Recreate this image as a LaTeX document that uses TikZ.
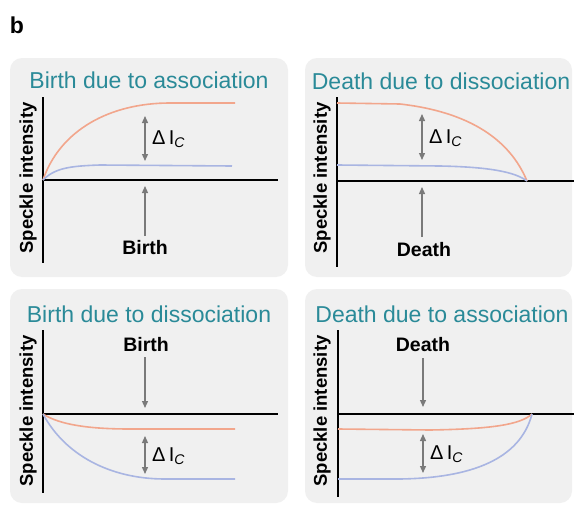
\documentclass[tikz,border=0pt]{standalone}
\usepackage{fontspec}
\setmainfont{Liberation Sans}
\usetikzlibrary{arrows.meta}
\definecolor{panelbg}{HTML}{F0F0F0}
\definecolor{titleteal}{HTML}{2A8A98}
\definecolor{curveor}{HTML}{F2A68C}
\definecolor{curvebl}{HTML}{A9B5E2}
\definecolor{arrgray}{HTML}{7A7A7A}
\tikzset{
  panel/.style={fill=panelbg, draw=none, rounded corners=12pt},
  ptitle/.style={text=titleteal, font=\fontsize{23}{23}\selectfont, inner sep=0pt},
  axis/.style={line width=2pt, black},
  ylab/.style={rotate=90, font=\bfseries\fontsize{18.5}{18.5}\selectfont, inner sep=0pt},
  evlab/.style={font=\bfseries\fontsize{19.5}{19.5}\selectfont, inner sep=0pt},
  dlab/.style={font=\fontsize{20}{20}\selectfont, inner sep=0pt, anchor=west},
  orc/.style={curveor, line width=1.6pt},
  blc/.style={curvebl, line width=1.6pt},
  garr/.style={arrgray, line width=1.3pt, -{Triangle[width=6pt,length=7pt]}},
  gdarr/.style={arrgray, line width=1.3pt, {Triangle[width=6pt,length=7pt]}-{Triangle[width=6pt,length=7pt]}}
}
\newcommand{\dIC}{Δ\,I\textsubscript{\itshape C}}
\begin{document}
\begin{tikzpicture}[x=1pt,y=-1pt]
\useasboundingbox (0,0) rectangle (574,506);
\fill[white] (0,0) rectangle (574,506);
\node[font=\bfseries\fontsize{23}{23}\selectfont, inner sep=0pt] (b) at (17,25) {b};
% panels
\fill[panel] (10,58) rectangle (288,277);
\fill[panel] (305,58) rectangle (572,277);
\fill[panel] (10,289) rectangle (288,503);
\fill[panel] (305,289) rectangle (572,503);
% ---------- Panel 1
\node[ptitle] (t1) at (149,80) {Birth due to association};
\node[ylab] (y1) at (28,178) {Speckle intensity};
\coordinate (o1) at (43,180);
\draw[axis] (43,97) -- (43,263);
\draw[axis] (o1) -- (278,180);
\draw[orc] (o1) .. controls (60,130) and (110,103) .. (170,103) -- (235,103);
\draw[blc] (o1) .. controls (55,168) and (70,166) .. (100,165) -- (232,166);
\coordinate (d1a) at (145,116);
\coordinate (d1b) at (145,161);
\draw[gdarr] (d1a) -- (d1b);
\node[dlab] (dl1) at (152,139) {\dIC};
\node[evlab] (e1) at (145,248) {Birth};
\coordinate (e1s) at (145,236);
\coordinate (e1t) at (145,186);
\draw[garr] (e1s) -- (e1t);
% ---------- Panel 2
\node[ptitle] (t2) at (441,81) {Death due to dissociation};
\node[ylab] (y2) at (322,178) {Speckle intensity};
\coordinate (o2) at (337,181);
\coordinate (z2) at (527,181);
\draw[axis] (337,97) -- (337,267);
\draw[axis] (o2) -- (574,181);
\draw[orc] (337,103) -- (400,104) .. controls (470,112) and (510,140) .. (z2);
\draw[blc] (337,165) -- (440,166) .. controls (490,167) and (515,172) .. (z2);
\coordinate (d2a) at (422,114);
\coordinate (d2b) at (422,160);
\draw[gdarr] (d2a) -- (d2b);
\node[dlab] (dl2) at (429,138) {\dIC};
\node[evlab] (e2) at (424,250) {Death};
\coordinate (e2s) at (422,237);
\coordinate (e2t) at (422,187);
\draw[garr] (e2s) -- (e2t);
% ---------- Panel 3
\node[ptitle] (t3) at (149,314) {Birth due to dissociation};
\node[ylab] (y3) at (28,411) {Speckle intensity};
\coordinate (o3) at (43,414);
\draw[axis] (43,330) -- (43,493);
\draw[axis] (o3) -- (278,414);
\draw[orc] (o3) .. controls (60,425) and (90,429) .. (130,429) -- (235,429);
\draw[blc] (o3) .. controls (65,455) and (110,479) .. (165,479) -- (235,479);
\coordinate (d3a) at (145,436);
\coordinate (d3b) at (145,474);
\draw[gdarr] (d3a) -- (d3b);
\node[dlab] (dl3) at (152,456) {\dIC};
\node[evlab] (e3) at (146,345) {Birth};
\coordinate (e3s) at (145,357);
\coordinate (e3t) at (145,408);
\draw[garr] (e3s) -- (e3t);
% ---------- Panel 4
\node[ptitle] (t4) at (442,314) {Death due to association};
\node[ylab] (y4) at (322,411) {Speckle intensity};
\coordinate (o4) at (338,414);
\coordinate (z4) at (532,414);
\draw[axis] (338,330) -- (338,497);
\draw[axis] (o4) -- (574,414);
\draw[orc] (338,429) -- (430,430) .. controls (490,429) and (520,425) .. (z4);
\draw[blc] (338,479) -- (400,479) .. controls (470,478) and (520,460) .. (z4);
\coordinate (d4a) at (423,434);
\coordinate (d4b) at (423,473);
\draw[gdarr] (d4a) -- (d4b);
\node[dlab] (dl4) at (430,454) {\dIC};
\node[evlab] (e4) at (423,345) {Death};
\coordinate (e4s) at (423,358);
\coordinate (e4t) at (423,407);
\draw[garr] (e4s) -- (e4t);
\end{tikzpicture}
\end{document}
